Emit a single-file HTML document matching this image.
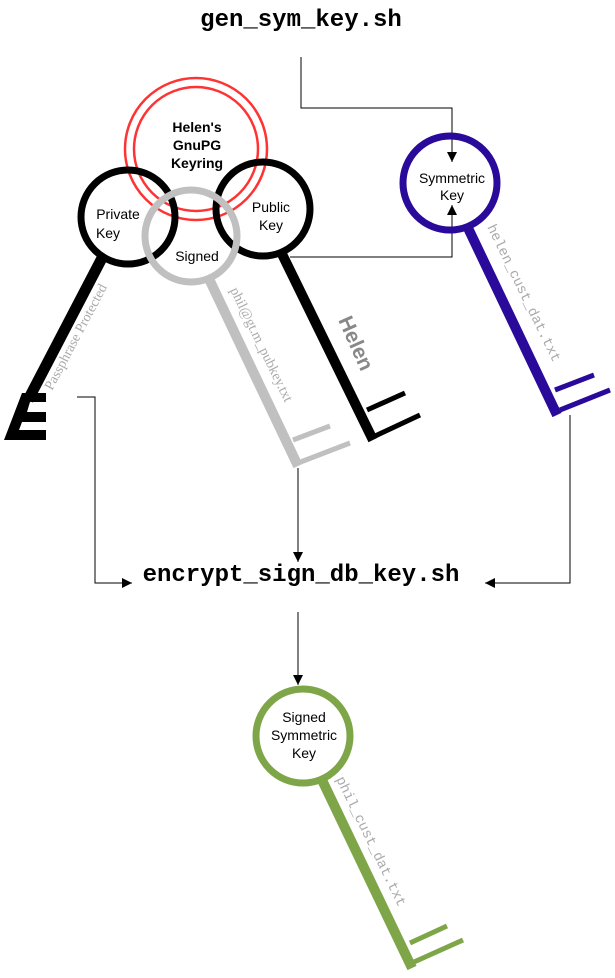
<!DOCTYPE html>
<html><head><style>body{margin:0;background:#fff}svg{display:block}</style></head><body>
<svg width="615" height="978" viewBox="0 0 615 978" xmlns="http://www.w3.org/2000/svg">
<defs><marker id="a" viewBox="0 0 10 10" refX="10" refY="5" markerWidth="13" markerHeight="10" orient="auto" markerUnits="userSpaceOnUse"><path d="M0,0 L10,5 L0,10z" fill="#000"/></marker></defs>
<g fill="none" stroke="#000" stroke-width="1">
<polyline points="301,57 301,108 452,108 452,162" marker-end="url(#a)"/>
<polyline points="290,257 452,257 452,205" marker-end="url(#a)"/>
<polyline points="77,397 95,397 95,583 132,583" marker-end="url(#a)"/>
<polyline points="298,468 298,562" marker-end="url(#a)"/>
<polyline points="570,415 570,583 485,583" marker-end="url(#a)"/>
<polyline points="298,612 298,685" marker-end="url(#a)"/>
</g>
<text x="301" y="26" font-family="Liberation Mono,monospace" font-size="24" font-weight="bold" text-anchor="middle">gen_sym_key.sh</text>
<text x="301" y="581" font-family="Liberation Mono,monospace" font-size="24" font-weight="bold" text-anchor="middle">encrypt_sign_db_key.sh</text>
<circle cx="196" cy="149" r="71" fill="none" stroke="#f33" stroke-width="2.5"/>
<circle cx="196" cy="149" r="62" fill="none" stroke="#f33" stroke-width="2.5"/>
<g font-family="Liberation Sans,sans-serif" font-size="14" font-weight="bold" text-anchor="middle"><text x="197" y="132">Helen's</text><text x="197" y="150">GnuPG</text><text x="197" y="168">Keyring</text></g>
<g stroke="#000" fill="none">
<circle cx="128" cy="217" r="47" stroke-width="7"/>
<line x1="102" y1="258" x2="28" y2="400" stroke-width="11"/>
</g>
<path d="M22,393 L46,393 L46,402 L30,402 L27,412 L46,412 L46,422 L22,422 L19,430 L46,430 L46,440 L4,440 Z" fill="#000"/>
<g stroke="#000" fill="none">
<circle cx="263" cy="209" r="47" stroke-width="7"/>
<line x1="282" y1="254" x2="373" y2="440" stroke-width="10"/>
<path d="M367,410 L405,393 M373,437 L420,415" stroke-width="5"/>
</g>
<g stroke="#c0c0c0" fill="none">
<circle cx="191" cy="236" r="46" stroke-width="7"/>
<line x1="210" y1="281" x2="298" y2="466" stroke-width="10"/>
<path d="M293,440 L330,426 M298,463 L350,443" stroke-width="5"/>
</g>
<g stroke="#2a0a9a" fill="none">
<circle cx="450" cy="183" r="47" stroke-width="7"/>
<line x1="468" y1="228" x2="557" y2="415" stroke-width="10"/>
<path d="M555,390 L594,375 M560,410 L610,390" stroke-width="5"/>
</g>
<g stroke="#7ea648" fill="none">
<circle cx="303" cy="736" r="47" stroke-width="7"/>
<line x1="322" y1="780" x2="412" y2="968" stroke-width="10"/>
<path d="M410,943 L447,926 M414,962 L463,940" stroke-width="5"/>
</g>
<g font-family="Liberation Sans,sans-serif" font-size="14" text-anchor="middle">
<text x="118" y="219">Private</text><text x="108" y="238">Key</text>
<text x="271" y="212">Public</text><text x="271" y="230">Key</text>
<text x="197" y="261">Signed</text>
<text x="452" y="183">Symmetric</text><text x="452" y="200">Key</text>
<text x="304" y="722">Signed</text><text x="304" y="740">Symmetric</text><text x="304" y="758">Key</text>
</g>
<g font-family="Liberation Serif,serif" font-size="14" fill="#aaa">
<text transform="translate(52,391) rotate(-62)">Passphrase Protected</text>
<text transform="translate(230,290) rotate(64)">phil@gt.m_pubkey.txt</text>
</g>
<text transform="translate(338,320) rotate(66)" font-family="Liberation Sans,sans-serif" font-size="21" font-weight="bold" fill="#888">Helen</text>
<g font-family="Liberation Mono,monospace" font-size="14" fill="#aaa">
<text transform="translate(487,227) rotate(64)">helen_cust_dat.txt</text>
<text transform="translate(336,779) rotate(64)">phil_cust_dat.txt</text>
</g>
</svg>
</body></html>
